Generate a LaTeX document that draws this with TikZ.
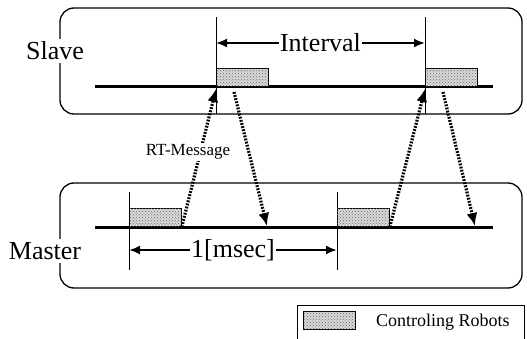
\documentclass[tikz,border=0pt]{standalone}
\usepackage{fontspec}
\setmainfont{Liberation Serif}
\usetikzlibrary{arrows.meta,positioning,patterns}

\begin{document}
\begin{tikzpicture}[
	x = 1pt, y = -1pt, % one unit per pixel, y downwards
	> = {Latex[length=11pt, width=9pt]}, % arrow head style
	frame/.style={draw, rounded corners=14pt, line width=1.3pt},
	track/.style={line width=3pt},
	tick/.style={line width=0.8pt},
	robo/.style={draw, line width=0.8pt, fill=black!15, postaction={pattern=crosshatch dots, pattern color=black!60},
		minimum width=52pt, minimum height=18pt, inner sep=0pt, anchor=south west},
	msg/.style={-{Latex[length=13pt, width=11pt]}, line width=3.2pt, dash pattern=on 1.8pt off 1.4pt}, % dotted message line
	dim/.style={<->, line width=2pt},
	big/.style={font=\fontsize{26}{28}\selectfont, fill=white, inner sep=3pt},
	small/.style={font=\fontsize{17}{19}\selectfont, fill=white, inner sep=2pt},
	]
	\useasboundingbox (0,0) rectangle (527,339);

	% Frames of both stations
	\draw[frame] (60,8) rectangle (522,114);
	\draw[frame] (60,183) rectangle (522,288);
	\node[big] (slave)  at (55,51)  {Slave};
	\node[big] (master) at (45,251) {Master};

	% Time lines
	\coordinate (s0) at (95,87);  \coordinate (s1) at (493,87);
	\coordinate (m0) at (95,227); \coordinate (m1) at (493,227);
	\draw[track] (s0) -- (s1);
	\draw[track] (m0) -- (m1);

	% Period marks
	\coordinate (sa) at (216,17);  \coordinate (sa') at (216,114);
	\coordinate (sb) at (425,17);  \coordinate (sb') at (425,114);
	\coordinate (ma) at (129,192); \coordinate (ma') at (129,270);
	\coordinate (mb) at (337,192); \coordinate (mb') at (337,270);
	\draw[tick] (sa) -- (sa');
	\draw[tick] (sb) -- (sb');
	\draw[tick] (ma) -- (ma');
	\draw[tick] (mb) -- (mb');

	% Controlling robots
	\node[robo] (S1) at (216,87)  {};
	\node[robo] (S2) at (425,87)  {};
	\node[robo] (M1) at (129,227) {};
	\node[robo] (M2) at (337,227) {};

	% Messages
	\coordinate (up1) at (216,89);  \coordinate (up2) at (425,89);
	\coordinate (dn1) at (234,92);  \coordinate (dn2) at (443,92);
	\coordinate (in1) at (267,226); \coordinate (in2) at (475,226);
	\draw[msg] (M1.south east) -- (up1);
	\draw[msg] (M2.south east) -- (up2);
	\draw[msg] (dn1) -- (in1);
	\draw[msg] (dn2) -- (in2);
	\node[small] (rt) at (188,152) {RT-Message};

	% Periods
	\coordinate (i0) at (216,43);  \coordinate (i1) at (425,43);
	\coordinate (p0) at (129,250); \coordinate (p1) at (337,250);
	\draw[dim] (i0) -- (i1) node[midway, big, inner sep=1pt] (intv) {Interval};
	\draw[dim] (p0) -- (p1) node[midway, big, inner sep=1pt] (msec) {1[msec]};

	% Legend
	\draw[line width=0.6pt] (297,305) rectangle (524,345);
	\node[robo] (key) at (303,330) {};
	\node[small, font=\fontsize{18}{20}\selectfont, anchor=west] (keytxt) at (374,322) {Controling Robots};

\end{tikzpicture}
\end{document}
